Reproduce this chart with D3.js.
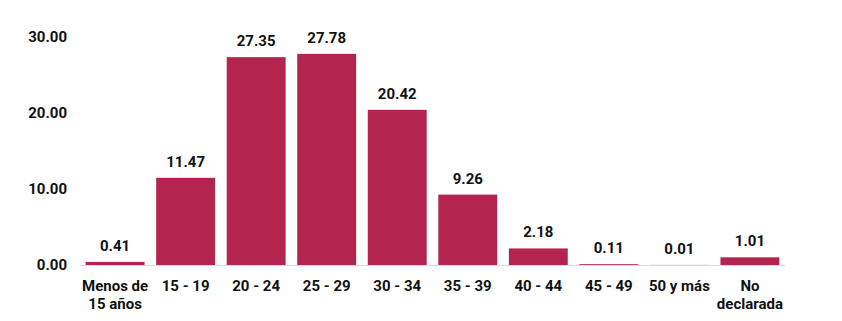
<!DOCTYPE html>
<html>
<head>
<meta charset="utf-8">
<script src="https://d3js.org/d3.v7.min.js"></script>
<style>
  body { margin: 0; background: #fff; }
  text { font-family: Roboto, "Noto Sans", sans-serif; font-weight: 700; fill: #111; }
</style>
</head>
<body>
<div id="chart"></div>
<script>
const categories = ["Menos de|15 años", "15 - 19", "20 - 24", "25 - 29", "30 - 34", "35 - 39", "40 - 44", "45 - 49", "50 y más", "No|declarada"];
const values = [0.41, 11.47, 27.35, 27.78, 20.42, 9.26, 2.18, 0.11, 0.01, 1.01];
const yTicks = [0, 10, 20, 30];

const width = 842, height = 321;
const margin = { top: 37, right: 57, bottom: 56, left: 80 };
const BAR = "#B3244F";
const FS = "15px";

const svg = d3.select("#chart").append("svg")
  .attr("width", width)
  .attr("height", height);

const x = d3.scaleBand()
  .domain(categories)
  .range([margin.left, width - margin.right])
  .paddingInner(0.165)
  .paddingOuter(0.08);

const y = d3.scaleLinear()
  .domain([0, 30])
  .range([height - margin.bottom, margin.top]);

// y axis labels (no line)
svg.append("g")
  .selectAll("text")
  .data(yTicks)
  .enter()
  .append("text")
  .attr("x", 67)
  .attr("y", (d) => y(d))
  .attr("dy", "0.35em")
  .attr("text-anchor", "end")
  .style("font-size", FS)
  .text((d) => d3.format(".2f")(d));

// bars
svg.append("g")
  .selectAll("rect")
  .data(values)
  .enter()
  .append("rect")
  .attr("x", (d, i) => x(categories[i]))
  .attr("y", (d) => y(d))
  .attr("width", x.bandwidth())
  .attr("height", (d) => y(0) - y(d))
  .attr("fill", BAR);

// baseline
svg.append("line")
  .attr("x1", margin.left)
  .attr("x2", width - margin.right)
  .attr("y1", y(0) + 0.5)
  .attr("y2", y(0) + 0.5)
  .attr("stroke", "#d9d9d9")
  .attr("stroke-width", 1);

// value labels
svg.append("g")
  .selectAll("text")
  .data(values)
  .enter()
  .append("text")
  .attr("x", (d, i) => x(categories[i]) + x.bandwidth() / 2)
  .attr("y", (d) => y(d) - 11)
  .attr("text-anchor", "middle")
  .style("font-size", FS)
  .text((d) => d3.format(".2f")(d));

// category labels
const cat = svg.append("g")
  .selectAll("text")
  .data(categories)
  .enter()
  .append("text")
  .attr("x", (d) => x(d) + x.bandwidth() / 2)
  .attr("y", y(0) + 26)
  .attr("text-anchor", "middle")
  .style("font-size", FS);

cat.selectAll("tspan")
  .data((d) => d.split("|").map((t) => ({ t, x: x(d) + x.bandwidth() / 2 })))
  .enter()
  .append("tspan")
  .attr("x", (d) => d.x)
  .attr("dy", (d, i) => (i === 0 ? 0 : 18))
  .text((d) => d.t);
</script>
</body>
</html>
